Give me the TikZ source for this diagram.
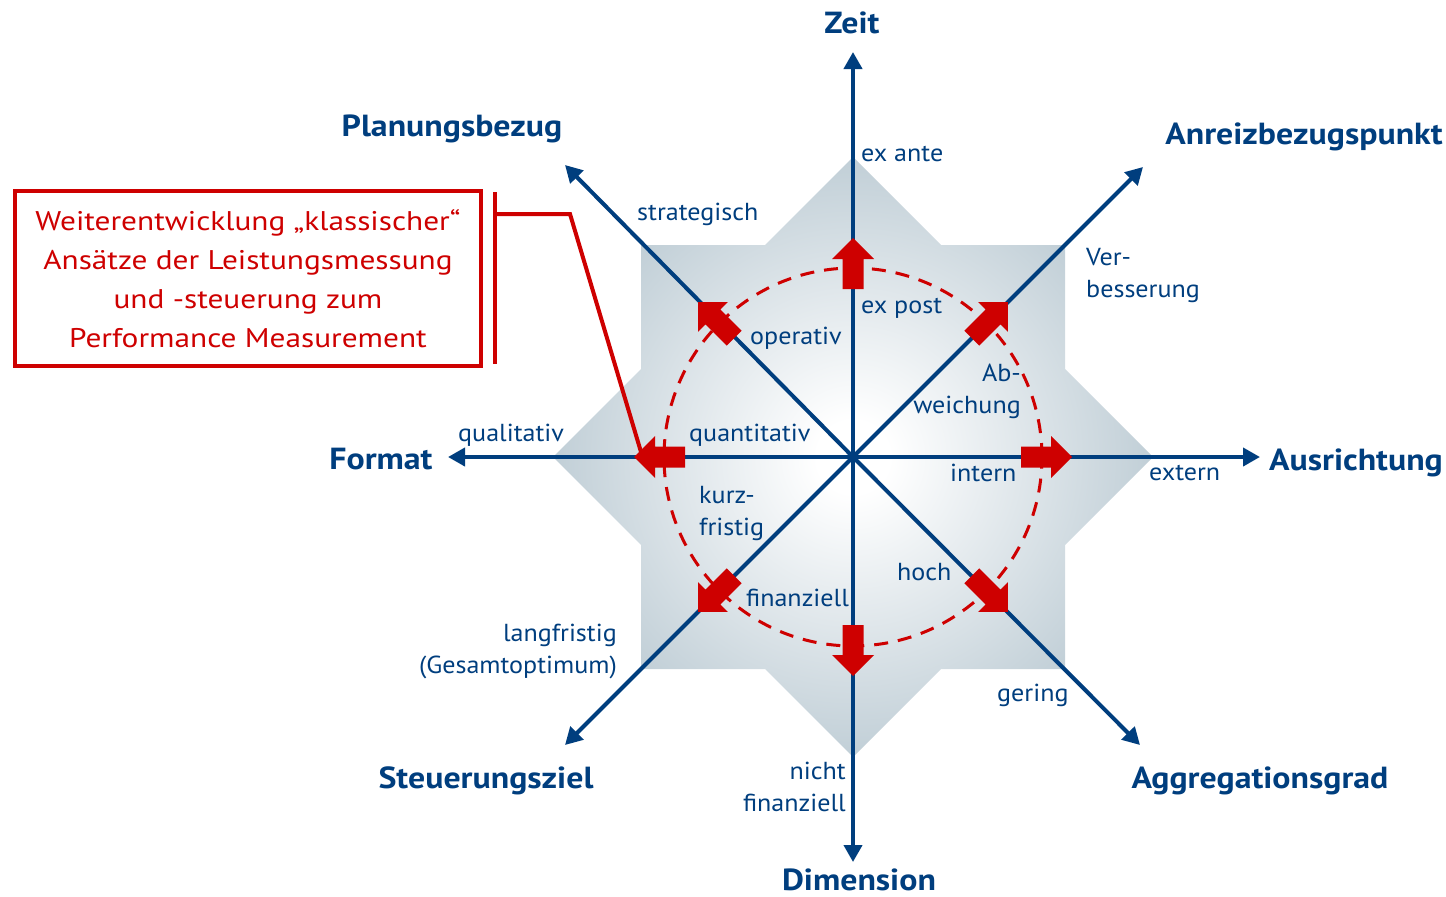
\documentclass[tikz,border=0pt]{standalone}
\usepackage{fontspec}
\setmainfont{PT Sans}
\newfontfamily\lblfont{PT Sans}[FakeStretch=1.06]
\newfontfamily\ttlfont{PT Sans}[FakeStretch=1.11]
\newfontfamily\boxfont{PT Sans}[FakeStretch=1.16]
\usetikzlibrary{arrows.meta}
\definecolor{axblue}{RGB}{0,62,126}
\definecolor{stargray}{RGB}{170,189,200}
\definecolor{accred}{RGB}{206,0,0}
\pgfdeclareradialshading{starglow}{\pgfpoint{0bp}{0bp}}{color(0bp)=(white); color(3bp)=(white); color(33bp)=(stargray); color(50bp)=(stargray)}
\tikzset{
  axisline/.style={draw=axblue, line width=4pt, -{Triangle[length=17pt,width=18pt]}},
  lbl/.style={text=axblue, font=\lblfont\fontsize{24.6}{32}\selectfont, inner sep=0pt},
  ttl/.style={text=axblue, font=\ttlfont\fontsize{30.5}{34}\selectfont\bfseries, inner sep=0pt},
  ring/.style={draw=accred, line width=3pt, dash pattern=on 14pt off 10pt},
  redline/.style={draw=accred, line width=4pt},
  redbox/.style={draw=accred, line width=4pt, text=accred, align=center,
    font=\boxfont\fontsize{27}{39}\selectfont, minimum width=466pt, minimum height=175pt, inner sep=0pt},
}
\begin{document}
\begin{tikzpicture}[x=1pt,y=-1pt]
\useasboundingbox (0,0) rectangle (1446,897);
\coordinate (C) at (853,457);
% star
\begin{scope}[shift={(853,457)}]
\shade[shading=starglow] (0,-300) -- (88,-212) -- (212,-212) -- (212,-88) -- (300,0) -- (212,88) -- (212,212) -- (88,212) -- (0,300) -- (-88,212) -- (-212,212) -- (-212,88) -- (-300,0) -- (-212,-88) -- (-212,-212) -- (-88,-212) -- cycle;
\end{scope}
% axis tips
\coordinate (tN) at (853,52);
\coordinate (tS) at (853,862);
\coordinate (tW) at (448,457);
\coordinate (tE) at (1260,457);
\coordinate (tNE) at (1143,167);
\coordinate (tNW) at (565,165);
\coordinate (tSW) at (565,745);
\coordinate (tSE) at (1140,745);
\foreach \t in {tN,tS,tW,tE,tNE,tNW,tSW,tSE}{\draw[axisline] (C) -- (\t);}
% dashed ring
\draw[ring] (C) circle[radius=189pt];
% red block arrows
\foreach \a in {0,45,...,315}{
  \fill[accred, shift={(853,457)}, rotate=\a] (168,-10.5) -- (198,-10.5) -- (198,-21) -- (219,0) -- (198,21) -- (198,10.5) -- (168,10.5) -- cycle;
}
% titles
\node[ttl, anchor=base] (zeit) at (852,33) {Zeit};
\node[ttl, anchor=base] (plan) at (452,136) {Planungsbezug};
\node[ttl, anchor=base] (anreiz) at (1304,144) {Anreizbezugspunkt};
\node[ttl, anchor=base] (format) at (381,469) {Format};
\node[ttl, anchor=base] (ausr) at (1356,470) {Ausrichtung};
\node[ttl, anchor=base] (steu) at (486,788) {Steuerungsziel};
\node[ttl, anchor=base] (aggr) at (1260,788) {Aggregationsgrad};
\node[ttl, anchor=base] (dim) at (859,890) {Dimension};
% labels
\node[lbl, anchor=base west] (exante) at (861,161) {ex ante};
\node[lbl, anchor=base west] (strat) at (637,220) {strategisch};
\node[lbl, anchor=base west] (expost) at (861,313) {ex post};
\node[lbl, anchor=base west] (oper) at (750,344) {operativ};
\node[lbl, anchor=base west] (quali) at (458,441) {qualitativ};
\node[lbl, anchor=base west] (quanti) at (689,441) {quantitativ};
\node[lbl, anchor=base west] (intern) at (950,481) {intern};
\node[lbl, anchor=base west] (extern) at (1149,480) {extern};
\node[lbl, anchor=base west] (hoch) at (897,580) {hoch};
\node[lbl, anchor=base west] (finanz) at (746,606) {finanziell};
\node[lbl, anchor=base west] (gering) at (997,701) {gering};
\node[lbl, anchor=west, align=left] (verb) at (1086,275) {Ver-\\besserung};
\node[lbl, anchor=east, align=right] (abw) at (1021,391) {Ab-\\weichung};
\node[lbl, anchor=west, align=left] (kurz) at (699,513) {kurz-\\fristig};
\node[lbl, anchor=east, align=right] (lang) at (617,651) {langfristig\\(Gesamtoptimum)};
\node[lbl, anchor=east, align=right] (nichtf) at (846,787) {nicht\\finanziell};
% red box and bracket
\node[redbox] (box) at (248,278.5) {Weiterentwicklung „klassischer“\\Ansätze der Leistungsmessung\\und -steuerung zum\\Performance Measurement};
\coordinate (brT) at (495,192);
\coordinate (brB) at (495,364);
\coordinate (brM) at (495,214);
\coordinate (bend) at (570,214);
\coordinate (redend) at (641,452);
\draw[redline] (brT) -- (brB);
\draw[redline, line join=miter] (brM) -- (bend) -- (redend);
\end{tikzpicture}
\end{document}
